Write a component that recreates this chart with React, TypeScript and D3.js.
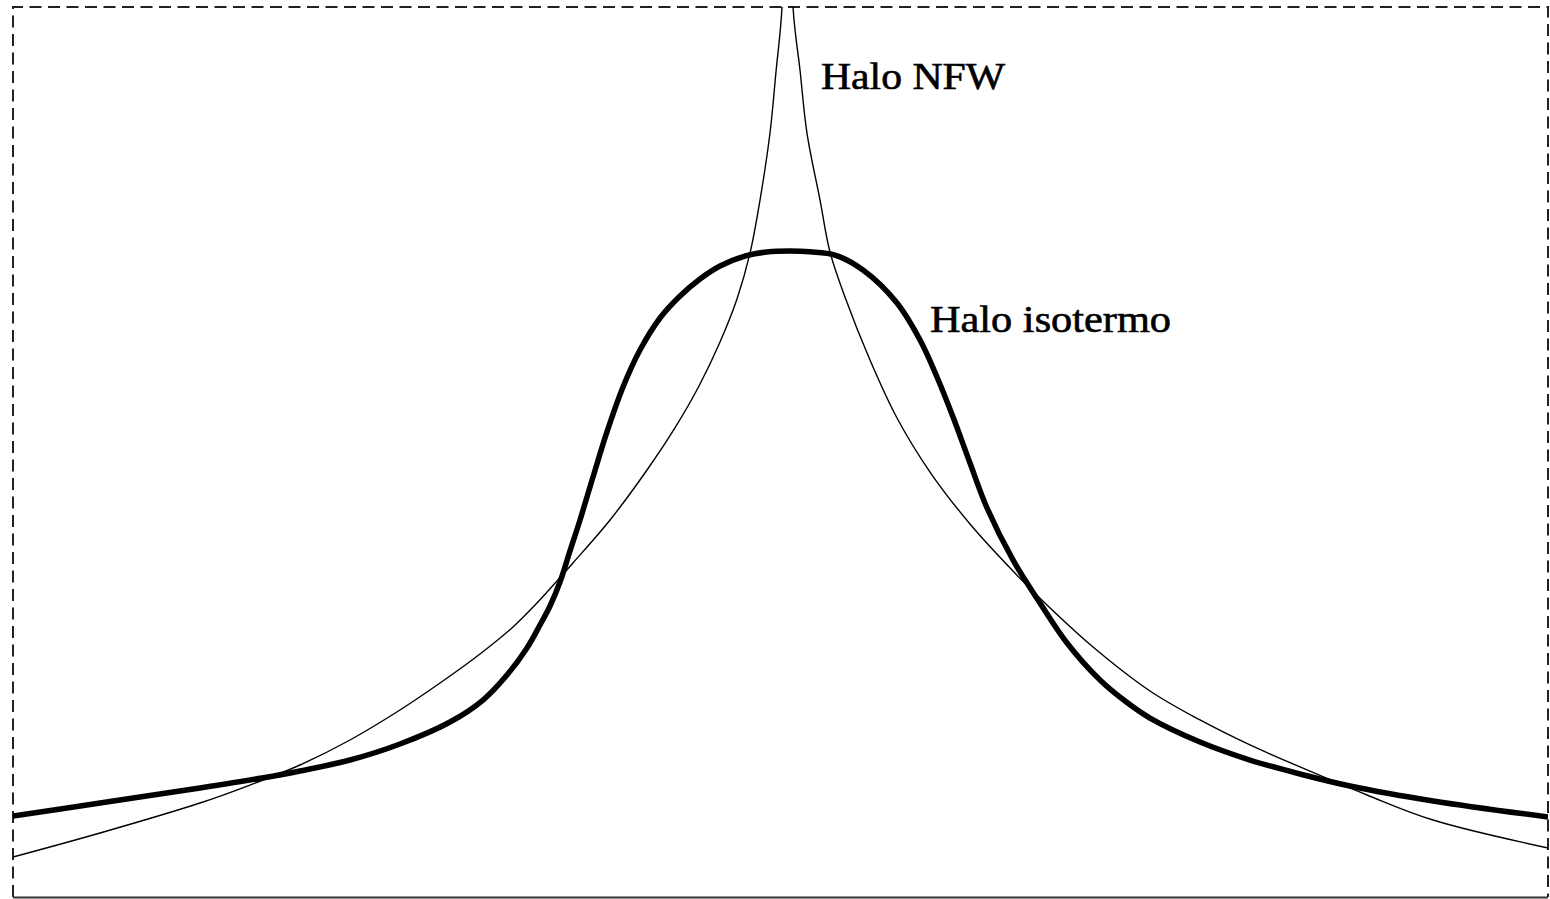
import React, { useEffect, useRef } from 'react';
import * as d3 from 'd3';

// density profiles (radius in arbitrary units, density in % of frame height)
const nfwRadius = [
  -100, -88.66, -75.64, -69.12, -62.61, -56.09, -49.58, -44.36, -39.15, -34.85,
  -31.73, -29.12, -27.04, -22.21, -17.39, -13.88, -10.62, -7.88, -5.67, -3.97,
  -2.67, -1.37, -0.59, 0.2, 0.98, 1.63, 2.54, 3.45, 5.15, 6.45, 8.4, 11.66,
  15.18, 19.48, 24.69, 30.29, 34.72, 40.72, 48.14, 54.66, 61.17, 67.69, 76.42,
  85.02, 100
];
const nfwDensity = [
  4.49, 7.19, 10.56, 12.58, 14.83, 17.64, 21.01, 24.04, 27.3, 30.34,
  33.03, 35.51, 37.53, 42.36, 47.98, 52.53, 57.42, 62.36, 67.19, 72.36,
  78.31, 85.84, 92.7, 100, 130, 100, 92.92, 85.84, 78.31, 72.47, 67.42, 60.34,
  53.82, 47.75, 41.91, 36.63, 32.81, 28.09, 23.15, 19.89, 17.08, 14.61, 11.46,
  8.65, 5.51
];

const isoRadius = [
  -100, -88.66, -75.64, -67.56, -62.61, -56.09, -49.58, -43.06, -38.76, -35.64,
  -33.03, -31.34, -30.03, -28.73, -27.43, -26.12, -24.43, -22.61, -20.52, -18.31,
  -15.7, -13.09, -10.49, -7.88, -4.63, -1.76, 1.24, 3.84, 7.1, 10.75, 15.18,
  18.18, 20.39, 22.48, 24.69, 26.91, 30.29, 33.81, 37.33, 41.63, 44.89, 48.14,
  54.66, 61.17, 67.69, 74.2, 85.02, 100
];
const isoDensity = [
  9.1, 10.56, 12.25, 13.37, 14.16, 15.39, 17.19, 19.66, 22.13, 24.94,
  27.98, 30.56, 32.7, 35.39, 38.88, 42.36, 47.19, 52.25, 57.3, 61.46,
  65.06, 67.53, 69.44, 70.9, 72.02, 72.47, 72.58, 72.49, 72.13, 70.45, 66.74,
  62.58, 58.43, 53.93, 48.76, 43.71, 37.87, 33.03, 28.54, 24.38, 22.02, 20.11,
  17.42, 15.39, 13.82, 12.47, 10.79, 8.99
];

const labels = ['Halo NFW', 'Halo isotermo'];

const dims = {
  width: 1550,
  height: 899,
  left: 13,
  right: 1548,
  top: 7,
  bottom: 897
};

export default function App() {
  const svgRef = useRef<SVGSVGElement>(null);

  useEffect(() => {
    const svg = d3.select(svgRef.current);
    svg.selectAll('*').remove();
    const { left, right, top, bottom } = dims;

    const x = d3.scaleLinear().domain([-100, 100]).range([left, right]);
    const y = d3.scaleLinear().domain([0, 100]).range([bottom, top]);

    svg.append('defs')
      .append('clipPath')
      .attr('id', 'frame')
      .append('rect')
      .attr('x', left)
      .attr('y', top)
      .attr('width', right - left)
      .attr('height', bottom - top);

    // frame: dashed on three sides, solid at the bottom
    const frame = svg.append('g').attr('stroke', '#222').attr('stroke-width', 2).attr('fill', 'none');
    frame.append('path')
      .attr('d', `M${left},${bottom} L${left},${top} L${right},${top} L${right},${bottom}`)
      .attr('stroke-dasharray', '12,6.5');
    frame.append('line')
      .attr('x1', left).attr('x2', right)
      .attr('y1', bottom + 0.5).attr('y2', bottom + 0.5)
      .attr('stroke', '#333');

    const curves = svg.append('g').attr('clip-path', 'url(#frame)').attr('fill', 'none').attr('stroke', '#000');

    const nfw = nfwRadius.map((r, i) => [r, nfwDensity[i]] as [number, number]);
    const iso = isoRadius.map((r, i) => [r, isoDensity[i]] as [number, number]);

    const smooth = d3.line<[number, number]>()
      .x(d => x(d[0]))
      .y(d => y(d[1]))
      .curve(d3.curveCatmullRom.alpha(0.5));

    curves.append('path')
      .datum(nfw)
      .attr('stroke-width', 1.4)
      .attr('d', smooth);

    curves.append('path')
      .datum(iso)
      .attr('stroke-width', 5.5)
      .attr('stroke-linejoin', 'round')
      .attr('d', smooth);

    // labels
    const text = svg.append('g')
      .attr('font-family', '"Liberation Serif", "DejaVu Serif", serif')
      .attr('font-size', 37)
      .attr('fill', '#000')
      .attr('stroke', '#000')
      .attr('stroke-width', 0.6);
    text.append('text')
      .attr('x', 821).attr('y', 89)
      .attr('textLength', 184).attr('lengthAdjust', 'spacingAndGlyphs')
      .text(labels[0]);
    text.append('text')
      .attr('x', 930).attr('y', 332)
      .attr('textLength', 241).attr('lengthAdjust', 'spacingAndGlyphs')
      .text(labels[1]);
  }, []);

  return (
    <div style={{ position: 'fixed', left: 0, top: 0, background: '#fff' }}>
      <svg ref={svgRef} width={dims.width} height={dims.height} style={{ display: 'block' }} />
    </div>
  );
}
